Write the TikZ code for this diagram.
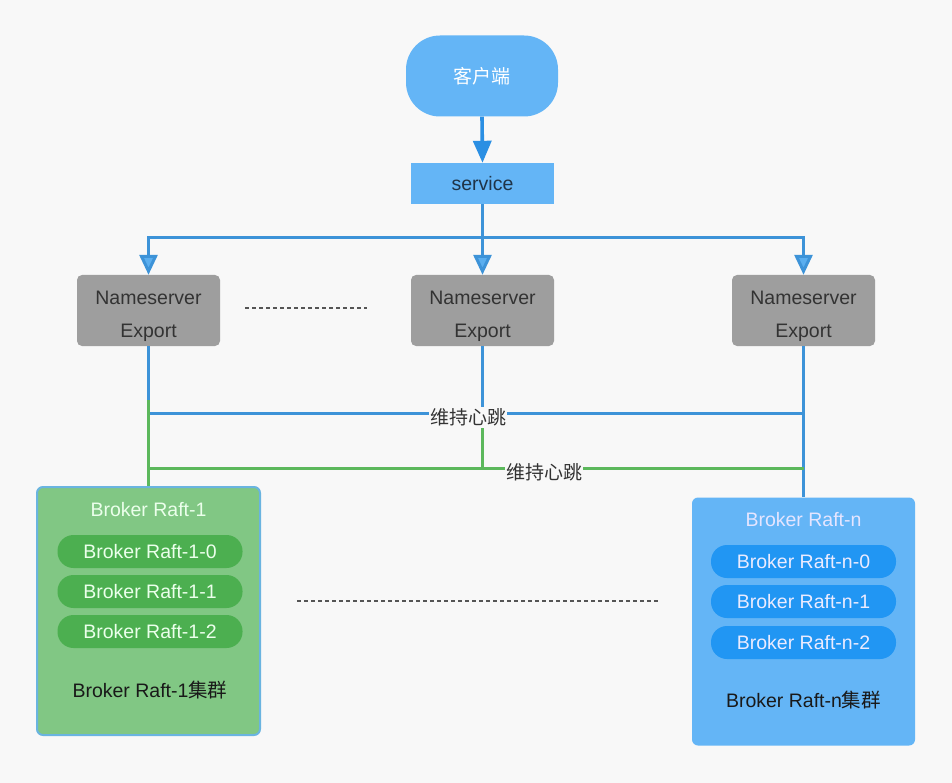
\documentclass[tikz,border=0pt]{standalone}
\usepackage{fontspec}
\setmainfont{Liberation Sans}
\newfontfamily\cjk{Noto Sans CJK SC}
\usetikzlibrary{arrows.meta,positioning,calc}
\definecolor{bgc}{HTML}{F8F8F8}
\definecolor{cli}{HTML}{64B5F6}
\definecolor{arrc}{HTML}{2B8FE3}
\definecolor{linec}{HTML}{3D93D8}
\definecolor{tipc}{HTML}{5AAEEF}
\definecolor{nsg}{HTML}{9E9E9E}
\definecolor{ink}{HTML}{333333}
\definecolor{svink}{HTML}{1F3347}
\definecolor{grbox}{HTML}{81C784}
\definecolor{grpill}{HTML}{4CAF50}
\definecolor{grline}{HTML}{5CB85C}
\definecolor{blbox}{HTML}{64B5F6}
\definecolor{blpill}{HTML}{2196F3}
\definecolor{rimc}{HTML}{6AB4E0}
\definecolor{dotc}{HTML}{555555}

\begin{document}
\begin{tikzpicture}[x=1pt,y=-1pt,
  txt/.style={font=\fontsize{19.5}{23}\selectfont},
  zh/.style={font=\fontsize{19}{22}\cjk},
  client/.style={zh,fill=cli,text=white,rounded corners=34pt,minimum width=152pt,minimum height=81pt,inner sep=0pt},
  svcbox/.style={txt,fill=cli,text=svink,minimum width=143pt,minimum height=41pt,inner sep=0pt},
  nsbox/.style={fill=nsg,rounded corners=5pt,minimum width=143pt,minimum height=71pt,inner sep=0pt},
  nstext/.style={txt,text=ink,inner sep=0pt},
  cluster/.style={rounded corners=6pt,minimum width=223pt,minimum height=248pt,inner sep=0pt},
  pill/.style={txt,rounded corners=16pt,minimum width=185pt,minimum height=33pt,inner sep=0pt},
  blueline/.style={draw=linec,line width=3pt},
  greenline/.style={draw=grline,line width=3pt},
  downarrow/.style={blueline,-{Triangle[width=18pt,length=20pt,fill=tipc]}},
  gap/.style={draw=dotc,line width=2.6pt,dash pattern=on 4pt off 3pt},
  beat/.style={zh,fill=bgc,text=ink,inner sep=1pt}]
\fill[bgc] (0,0) rectangle (952,783);

% top
\node[client] (client) at (482,76) {客户端};
\node[svcbox] (service) at (482.5,183.5) {service};
\draw[arrc,line width=3.6pt,-{Triangle[width=18pt,length=22pt]}] (client.south) -- (service.north);

% nameservers
\node[nsbox] (ns1) at (148.5,310.5) {};
\node[nsbox] (ns2) at (482.5,310.5) {};
\node[nsbox] (ns3) at (803.5,310.5) {};
\node[nstext] (ns1a) at (148.5,298) {Nameserver};
\node[nstext] (ns1b) at (148.5,333) {Export};
\node[nstext] (ns2a) at (482.5,298) {Nameserver};
\node[nstext] (ns2b) at (482.5,333) {Export};
\node[nstext] (ns3a) at (803.5,298) {Nameserver};
\node[nstext] (ns3b) at (803.5,333) {Export};
\coordinate (fan) at (482.5,238);
\draw[blueline] (service.south) -- (fan);
\draw[downarrow] (fan) -| (ns1.north);
\draw[downarrow] (fan) -- (ns2.north);
\draw[downarrow] (fan) -| (ns3.north);
\coordinate (gapa) at (245,308);
\coordinate (gapb) at (367,308);
\draw[gap] (gapa) -- (gapb);

% broker clusters
\node[cluster,fill=grbox,draw=rimc,line width=2pt] (raft1) at (148.5,611) {};
\node[txt,text=white!92!green] (raft1t) at (148.5,510) {Broker Raft-1};
\node[pill,fill=grpill,text=white!92!green] (raft10) at (150,551.5) {Broker Raft-1-0};
\node[pill,fill=grpill,text=white!92!green] (raft11) at (150,591.5) {Broker Raft-1-1};
\node[pill,fill=grpill,text=white!92!green] (raft12) at (150,631.5) {Broker Raft-1-2};
\node[txt,text=black!90] (raft1c) at (150,690) {Broker Raft-1{\cjk 集群}};

\node[cluster,fill=blbox] (raftn) at (803.5,621.5) {};
\node[txt,text=white!90!blue] (raftnt) at (803.5,520) {Broker Raft-n};
\node[pill,fill=blpill,text=white!92!blue] (raftn0) at (803.5,561.5) {Broker Raft-n-0};
\node[pill,fill=blpill,text=white!92!blue] (raftn1) at (803.5,601.5) {Broker Raft-n-1};
\node[pill,fill=blpill,text=white!92!blue] (raftn2) at (803.5,642.5) {Broker Raft-n-2};
\node[txt,text=black!90] (raftnc) at (803.5,700) {Broker Raft-n{\cjk 集群}};
\coordinate (gapc) at (297,601);
\coordinate (gapd) at (660,601);
\draw[gap] (gapc) -- (gapd);

% heartbeat, blue
\coordinate (hb1) at (148.5,413);
\coordinate (hb3) at (803.5,413);
\draw[blueline] (ns1.south) -- (hb1) -- (hb3);
\draw[blueline] (ns2.south) |- (hb1);
\draw[blueline] (ns3.south) -- (raftn.north);
\node[beat] (beat1) at (468,417) {维持心跳};

% heartbeat, green
\coordinate (gr1) at (148.5,400);
\coordinate (gr2) at (148.5,468);
\coordinate (gr3) at (803.5,468);
\coordinate (gr4) at (482.5,428);
\draw[greenline] (gr1) -- (raft1.north);
\draw[greenline] (gr2) -- (gr3);
\draw[greenline] (gr4) |- (gr2);
\node[beat] (beat2) at (544,472) {维持心跳};
\end{tikzpicture}
\end{document}
